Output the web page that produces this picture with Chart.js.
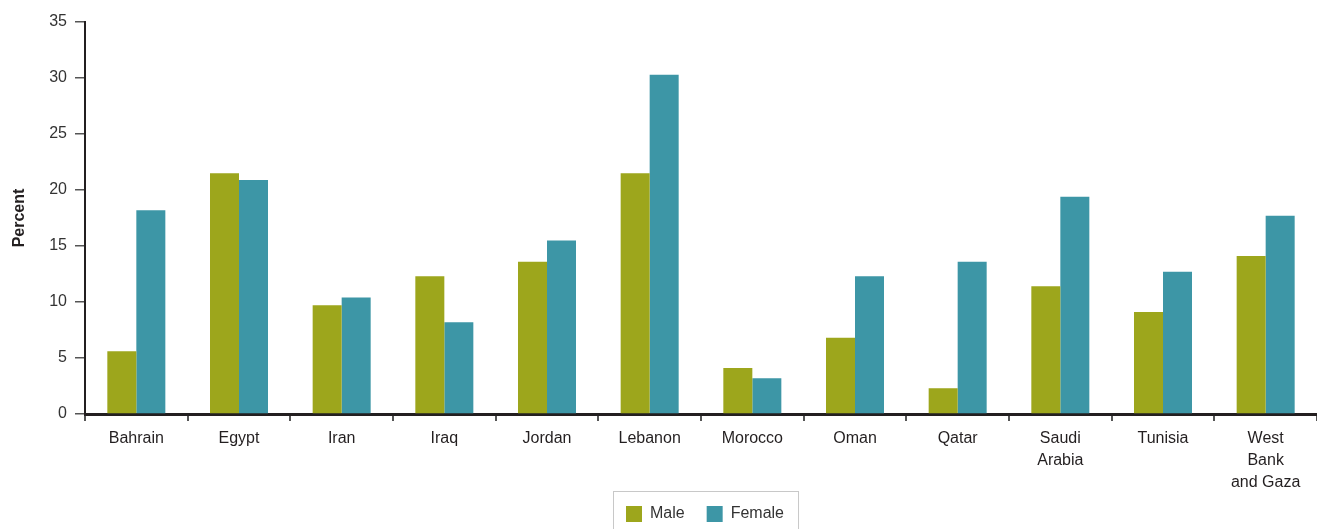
<!DOCTYPE html>
<html>
<head>
<meta charset="utf-8">
<script src="https://cdn.jsdelivr.net/npm/chart.js@4"></script>
<style>
  html, body { margin: 0; padding: 0; background: #fff; }
  #wrap { width: 1317px; height: 529px; }
</style>
</head>
<body>
<div id="wrap"><canvas id="chart"></canvas></div>
<script>
// data
var countries = ['Bahrain', 'Egypt', 'Iran', 'Iraq', 'Jordan', 'Lebanon', 'Morocco', 'Oman', 'Qatar',
                 ['Saudi', 'Arabia'], 'Tunisia', ['West', 'Bank', 'and Gaza']];
var male   = [5.6, 21.5, 9.7, 12.3, 13.6, 21.5, 4.1, 6.8, 2.3, 11.4, 9.1, 14.1];
var female = [18.2, 20.9, 10.4, 8.2, 15.5, 30.3, 3.2, 12.3, 13.6, 19.4, 12.7, 17.7];
var yTicks = [0, 5, 10, 15, 20, 25, 30, 35];

var fontFam = "'Liberation Sans Narrow', 'Liberation Sans', Arial, sans-serif";
Chart.defaults.font.family = fontFam;
Chart.defaults.color = '#333';

// legend centred under the plot area, with a thin box round it
var legendBox = {
    id: 'legendBox',
    afterLayout: function(chart) {
        var lg = chart.legend;
        if (!lg) return;
        lg.left = chart.chartArea.left + 4;
        lg.right = chart.chartArea.right + 4;
        lg.top = chart.chartArea.bottom + 70;
        lg.bottom = chart.height;
    },
    afterDraw: function(chart) {
        var lg = chart.legend;
        if (!lg || !lg.legendHitBoxes || !lg.legendHitBoxes.length) return;
        var hb = lg.legendHitBoxes;
        var first = hb[0], last = hb[hb.length - 1];
        var x1 = first.left - 13;
        var x2 = last.left + last.width + 14;
        var y1 = first.top - 15;
        var ctx = chart.ctx;
        ctx.save();
        ctx.strokeStyle = '#c8c8c8';
        ctx.lineWidth = 1;
        ctx.strokeRect(Math.round(x1) + 0.5, Math.round(y1) + 0.5, x2 - x1, 60);
        ctx.restore();
    }
};

var ctx = document.getElementById('chart').getContext('2d');
var chart = new Chart(ctx, {
    type: 'bar',
    data: {
        labels: countries,
        datasets: [
            { label: 'Male', data: male, backgroundColor: '#9da61c' },
            { label: 'Female', data: female, backgroundColor: '#3d96a6' }
        ]
    },
    options: {
        responsive: true,
        maintainAspectRatio: false,
        animation: false,
        datasets: { bar: { categoryPercentage: 0.565, barPercentage: 1.0 } },
        layout: { padding: { top: 22, right: 0, left: 0, bottom: 0 } },
        plugins: {
            legend: {
                position: 'bottom',
                maxHeight: 39,
                labels: {
                    boxWidth: 16,
                    boxHeight: 16,
                    padding: 22,
                    color: '#333',
                    font: { size: 16, family: fontFam }
                }
            },
            tooltip: { enabled: false }
        },
        scales: {
            x: {
                offset: true,
                grid: {
                    offset: true,
                    drawOnChartArea: false,
                    drawTicks: true,
                    tickLength: 7,
                    color: '#555',
                    lineWidth: 2
                },
                border: { display: true, color: '#231f20', width: 3 },
                ticks: {
                    color: '#231f20',
                    maxRotation: 0,
                    autoSkip: false,
                    padding: 6,
                    font: { size: 16, family: fontFam, lineHeight: 1.4 }
                },
                afterFit: function(scale) { scale.height = 76; }
            },
            y: {
                min: 0,
                max: 35,
                afterBuildTicks: function(scale) {
                    scale.ticks = yTicks.map(function(v) { return { value: v }; });
                },
                grid: {
                    drawOnChartArea: false,
                    drawTicks: true,
                    tickLength: 10,
                    color: '#555',
                    lineWidth: 1.5
                },
                border: { display: true, color: '#231f20', width: 2 },
                ticks: {
                    color: '#333',
                    padding: 8,
                    font: { size: 16, family: fontFam }
                },
                title: {
                    display: true,
                    text: 'Percent',
                    color: '#231f20',
                    font: { size: 16, weight: 'bold', family: fontFam },
                    padding: { top: 10, bottom: 4 }
                },
                afterFit: function(scale) { scale.width = 85; }
            }
        }
    },
    plugins: [legendBox]
});
</script>
</body>
</html>
